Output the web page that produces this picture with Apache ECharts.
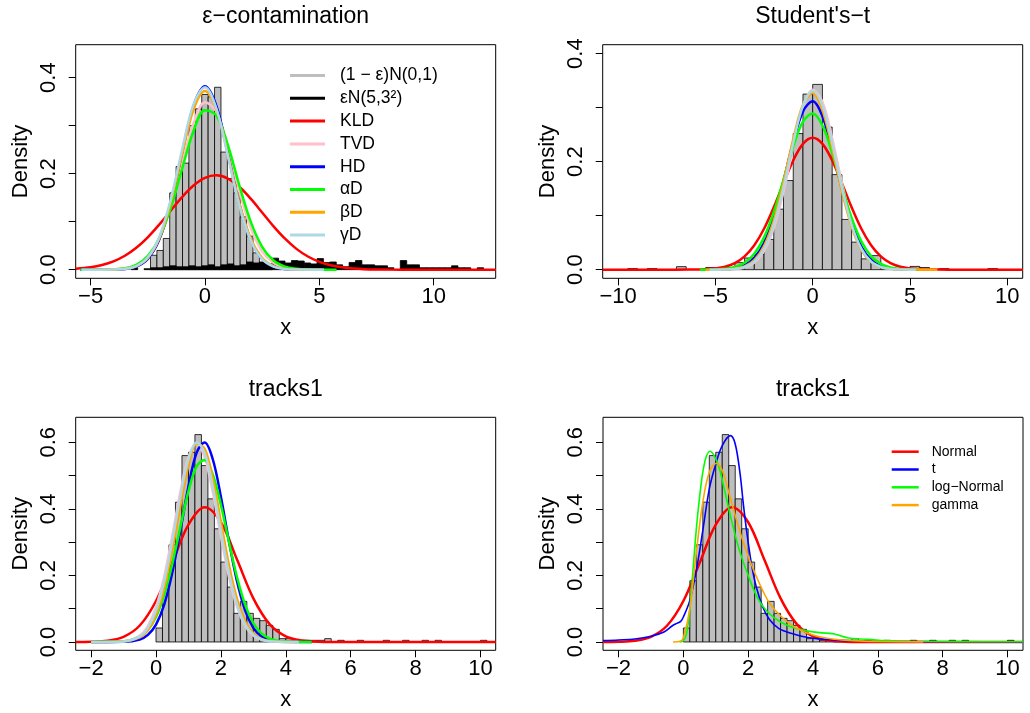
<!DOCTYPE html>
<html>
<head>
<meta charset="utf-8">
<script src="https://cdn.jsdelivr.net/npm/echarts@6/dist/echarts.min.js"></script>
<style>
html, body { margin: 0; padding: 0; background: #fff; }
#chart { width: 1030px; height: 713px; }
</style>
</head>
<body>
<div id="chart"></div>
<script>
var FONT = '"Liberation Sans", Arial, Helvetica, sans-serif';

// ---- panel 1: e-contamination ----
var p1BinStart = -3.22, p1BinWidth = 0.28;
var p1Grey = [0, 0, 0, 0.03, 0.04, 0.065, 0.16, 0.215, 0.222, 0.30, 0.335, 0.365, 0.36, 0.38,
  0.245, 0.19, 0.16, 0.11, 0.07, 0.035, 0.015, 0.005];
var p1Black = [0.004, 0, 0.002, 0.004, 0.004, 0.006, 0.008, 0.006, 0.006, 0.008, 0.006, 0.008, 0.01,
  0.006, 0.01, 0.012, 0.008, 0.01, 0.016, 0.014, 0.016, 0.012, 0.024, 0.018, 0.014, 0.019, 0.018,
  0.014, 0.012, 0.023, 0.015, 0.016, 0.01, 0.006, 0.015, 0.019, 0.01, 0.01, 0.008, 0.008, 0.004,
  0, 0.019, 0.01, 0.01, 0.004, 0.004, 0.004, 0.004, 0.004, 0.008, 0.004, 0.004, 0, 0.004];
var p1KLD = [[-5.65,0.0021],[-5,0.0052],[-4.5,0.0098],[-4,0.0174],[-3.5,0.029],[-3,0.0456],[-2.5,0.0674],
  [-2,0.0937],[-1.5,0.1227],[-1,0.1512],[-0.5,0.1753],[0,0.1913],[0.5,0.1965],[1,0.1899],[1.5,0.1727],
  [2,0.1479],[2.5,0.1192],[3,0.0903],[3.5,0.0645],[4,0.0433],[4.5,0.0274],[5,0.0163],[5.5,0.0091],
  [6,0.0048],[6.5,0.0023],[7,0.0011],[8,0.0002],[9,0],[12.71,0]];
var p1TVD = [[-5.3,0],[-4,0.0005],[-3.5,0.0024],[-3,0.0087],[-2.5,0.026],[-2,0.0642],[-1.5,0.1307],
  [-1,0.2198],[-0.5,0.3048],[0,0.3487],[0.5,0.329],[1,0.2563],[1.5,0.1647],[2,0.0873],[2.5,0.0382],
  [3,0.0138],[3.5,0.0041],[4,0.001],[5.2,0]];
var p1HD = [[-5.45,0],[-4,0.0003],[-3.5,0.0015],[-3,0.0064],[-2.5,0.0225],[-2,0.0622],[-1.5,0.1377],
  [-1,0.2427],[-0.5,0.341],[0,0.382],[0.5,0.341],[1,0.2427],[1.5,0.1377],[2,0.0622],[2.5,0.0225],
  [3,0.0064],[3.5,0.0015],[4,0.0003],[5.3,0]];
var p1AlphaD = [[-5.45,0],[-4.5,0.0002],[-4,0.0008],[-3.5,0.003],[-3,0.0101],[-2.5,0.0281],[-2,0.0655],
  [-1.5,0.128],[-1,0.21],[-0.5,0.289],[0,0.332],[0.5,0.321],[1,0.26],[1.5,0.176],[2,0.1],[2.5,0.0477],
  [3,0.019],[3.5,0.0064],[4,0.0018],[4.5,0.0004],[5.75,0]];
var p1BetaD = [[-4.95,0],[-4,0.0004],[-3.5,0.0018],[-3,0.0073],[-2.5,0.0243],[-2,0.0648],[-1.5,0.1393],
  [-1,0.2404],[-0.5,0.3335],[0,0.372],[0.5,0.3335],[1,0.2404],[1.5,0.1393],[2,0.0648],[2.5,0.0243],
  [3,0.0073],[3.5,0.0018],[4,0.0004],[5.1,0]];
var p1GammaD = [[-5.4,0],[-4,0.0004],[-3.5,0.0019],[-3,0.0075],[-2.5,0.0252],[-2,0.0676],[-1.5,0.1452],
  [-1,0.25],[-0.5,0.3444],[0,0.38],[0.5,0.3354],[1,0.237],[1.5,0.134],[2,0.0607],[2.5,0.022],
  [3,0.0064],[3.5,0.0016],[4,0.0003],[5.2,0]];

// ---- panel 2: Student's-t ----
var p2BinStart = -10, p2BinWidth = 0.5;
var p2Grey = [0, 0.002, 0, 0.002, 0, 0, 0.0056, 0, 0, 0.004, 0.002, 0.004, 0.013, 0.0216, 0.028, 0.056,
  0.112, 0.165, 0.252, 0.325, 0.343, 0.264, 0.176, 0.093, 0.051, 0.02, 0.026, 0.004, 0, 0, 0.006,
  0.004, 0, 0.002, 0, 0, 0, 0, 0.002, 0];
var p2KLD = [[-10.79,0],[-7,0],[-6,0.0003],[-5.5,0.0009],[-5,0.0023],[-4.5,0.0055],[-4,0.0122],[-3.5,0.0247],
  [-3,0.0453],[-2.5,0.0758],[-2,0.1155],[-1.5,0.1602],[-1,0.2024],[-0.5,0.2329],[0,0.244],[0.5,0.2329],
  [1,0.2024],[1.5,0.1602],[2,0.1155],[2.5,0.0758],[3,0.0453],[3.5,0.0247],[4,0.0122],[4.5,0.0055],
  [5,0.0023],[5.5,0.0009],[6,0.0003],[7,0],[10.79,0]];
var p2TVD = [[-5.3,0],[-4.5,0.0003],[-4,0.0011],[-3.5,0.0042],[-3,0.0132],[-2.5,0.0348],[-2,0.0774],
  [-1.5,0.1446],[-1,0.2271],[-0.5,0.2997],[0,0.333],[0.5,0.3104],[1,0.2434],[1.5,0.1605],[2,0.0889],
  [2.5,0.0414],[3,0.0162],[3.5,0.0053],[4,0.0015],[4.5,0.0003],[5.4,0]];
var p2HD = [[-5.5,0],[-4.5,0.0007],[-4,0.0027],[-3.5,0.0082],[-3,0.0219],[-2.5,0.0499],[-2,0.0977],
  [-1.5,0.1641],[-1,0.2367],[-0.5,0.293],[0,0.3116],[0.5,0.2842],[1,0.2227],[1.5,0.1497],[2,0.0865],
  [2.5,0.0429],[3,0.0182],[3.5,0.0067],[4,0.0021],[4.5,0.0005],[5.3,0]];
var p2AlphaD = [[-5.8,0],[-5,0.0004],[-4.5,0.0015],[-4,0.0048],[-3.5,0.0127],[-3,0.0294],[-2.5,0.0598],
  [-2,0.1065],[-1.5,0.1664],[-1,0.228],[-0.5,0.274],[0,0.289],[0.5,0.267],[1,0.2164],[1.5,0.1538],
  [2,0.0959],[2.5,0.0524],[3,0.0251],[3.5,0.0106],[4,0.0039],[4.5,0.0012],[5,0.0003],[5.5,0]];
var p2BetaD = [[-5.5,0],[-4.5,0.0003],[-4,0.0017],[-3.5,0.006],[-3,0.0176],[-2.5,0.0436],[-2,0.0912],
  [-1.5,0.1614],[-1,0.2415],[-0.5,0.3055],[0,0.327],[0.5,0.2954],[1,0.2258],[1.5,0.1459],[2,0.0797],
  [2.5,0.0368],[3,0.0144],[3.5,0.0047],[4,0.0013],[4.5,0.0003],[6.4,0]];
var p2GammaD = [[-5.3,0],[-4.5,0.0003],[-4,0.0013],[-3.5,0.0049],[-3,0.0149],[-2.5,0.0385],[-2,0.0835],
  [-1.5,0.1525],[-1,0.2345],[-0.5,0.3037],[0,0.331],[0.5,0.3037],[1,0.2345],[1.5,0.1525],[2,0.0835],
  [2.5,0.0385],[3,0.0149],[3.5,0.0049],[4,0.0013],[4.5,0.0003],[5.3,0]];

// ---- panels 3 and 4: tracks1 ----
var p3BinStart = 0, p3BinWidth = 0.2;
var p3Grey = [0.042, 0.184, 0.292, 0.42, 0.56, 0.57, 0.623, 0.53, 0.43, 0.34, 0.24, 0.165, 0.086, 0.122,
  0.086, 0.071, 0.064, 0.05, 0.038, 0.01, 0.01, 0.005, 0.005, 0.005, 0.005, 0.005, 0.01, 0, 0.005, 0,
  0, 0.005, 0, 0, 0, 0.005, 0, 0, 0.005, 0, 0, 0.005, 0, 0.005, 0, 0, 0, 0, 0, 0, 0.005];
var p3KLD = [[-2.475,0.0001],[-2,0.0007],[-1.5,0.0037],[-1,0.0154],[-0.5,0.0494],[0,0.1231],[0.5,0.2369],
  [1,0.3524],[1.5,0.405],[2,0.3597],[2.5,0.2469],[3,0.131],[3.5,0.0537],[4,0.017],[4.5,0.0042],
  [5,0.0008],[5.5,0.0001],[6,0],[10.47,0]];
var p3TVD = [[-2,0],[-1.5,0.0001],[-1,0.0021],[-0.5,0.0196],[-0.25,0.0486],[0,0.1044],[0.25,0.1953],
  [0.5,0.318],[0.75,0.4504],[1,0.555],[1.25,0.595],[1.5,0.555],[1.75,0.4504],[2,0.318],[2.25,0.1953],
  [2.5,0.1044],[2.75,0.0486],[3,0.0196],[3.25,0.0069],[3.5,0.0021],[4,0.0001],[4.5,0]];
var p3HD = [[-2,0],[-1,0.0006],[-0.5,0.0075],[-0.25,0.0212],[0,0.0521],[0.25,0.1115],[0.5,0.2071],
  [0.75,0.3339],[1,0.4674],[1.25,0.568],[1.5,0.5994],[1.75,0.549],[2,0.4367],[2.25,0.3016],[2.5,0.1807],
  [2.75,0.0942],[3,0.0425],[3.25,0.0167],[3.5,0.0057],[3.75,0.0017],[4,0.0004],[4.8,0]];
var p3AlphaD = [[-2,0],[-1,0.0019],[-0.5,0.0152],[-0.25,0.0359],[0,0.0754],[0.25,0.1409],[0.5,0.2339],
  [0.75,0.3451],[1,0.4527],[1.25,0.5277],[1.5,0.5467],[1.75,0.5034],[2,0.4119],[2.25,0.2996],
  [2.5,0.1937],[2.75,0.1113],[3,0.0568],[3.25,0.0258],[3.5,0.0104],[3.75,0.0037],[4,0.0012],
  [4.5,0.0001],[4.8,0]];
var p3BetaD = [[-2,0],[-1,0.0013],[-0.5,0.0136],[-0.25,0.0357],[0,0.0812],[0.25,0.1604],[0.5,0.2753],
  [0.75,0.4102],[1,0.5305],[1.25,0.5957],[1.5,0.5807],[1.75,0.4914],[2,0.3614],[2.25,0.2302],
  [2.5,0.1279],[2.75,0.0614],[3,0.0256],[3.25,0.0093],[3.5,0.0029],[4,0.0002],[4.35,0]];
var p3GammaD = [[-2,0],[-1.5,0.0001],[-1,0.0017],[-0.5,0.0167],[-0.25,0.0425],[0,0.0942],[0.25,0.1807],
  [0.5,0.3016],[0.75,0.4367],[1,0.549],[1.25,0.5994],[1.5,0.568],[1.75,0.4674],[2,0.3339],[2.25,0.2071],
  [2.5,0.1115],[2.75,0.0521],[3,0.0212],[3.25,0.0075],[3.5,0.0023],[4,0.0001],[4.4,0]];

var p4Normal = p3KLD;
var p4T = [[-2.48,0.004],[-2,0.006],[-1.5,0.009],[-1,0.017],[-0.6,0.03],[-0.35,0.048],[-0.2,0.056],
  [-0.08,0.062],[0,0.075],[0.2,0.125],[0.4,0.215],[0.6,0.335],[0.8,0.46],[1,0.535],[1.2,0.59],
  [1.45,0.62],[1.6,0.595],[1.75,0.505],[1.85,0.415],[1.95,0.335],[2.1,0.235],[2.25,0.165],[2.45,0.105],
  [2.65,0.068],[2.95,0.04],[3.4,0.024],[3.8,0.014],[4.3,0.008],[5,0.004],[6,0.002],[8,0.0008],[10.48,0.0003]];
var p4LogNormal = [[-0.12,0],[0,0.004],[0.1,0.025],[0.2,0.1],[0.3,0.22],[0.4,0.34],[0.5,0.435],[0.6,0.51],
  [0.7,0.555],[0.82,0.573],[0.95,0.56],[1.1,0.525],[1.25,0.465],[1.45,0.38],[1.7,0.285],[2,0.2],
  [2.3,0.13],[2.6,0.09],[3,0.06],[3.4,0.043],[3.8,0.034],[4.2,0.028],[4.6,0.025],[4.8,0.02],[5.1,0.012],
  [5.5,0.009],[5.8,0.007],[6.2,0.004],[7,0.002],[8.5,0.001],[10.48,0.0005]];
var p4Gamma = [[-0.32,0],[-0.1,0.002],[0,0.012],[0.2,0.1],[0.4,0.27],[0.6,0.42],[0.8,0.51],[1.02,0.537],
  [1.2,0.515],[1.4,0.45],[1.6,0.38],[1.8,0.315],[2.05,0.245],[2.35,0.175],[2.65,0.118],[3,0.078],
  [3.4,0.047],[3.8,0.028],[4.2,0.016],[4.6,0.009],[5.2,0.004],[6,0.0015],[7.4,0.0003]];

// ticks
var p1XTicks = [-5, 0, 5, 10];
var p2XTicks = [-10, -5, 0, 5, 10];
var p3XTicks = [-2, 0, 2, 4, 6, 8, 10];
var yTicksTop = [0, 0.1, 0.2, 0.3, 0.4];
var yLabelsTop = [0, 0.2, 0.4];
var yTicksBottom = [0, 0.1, 0.2, 0.3, 0.4, 0.5, 0.6];
var yLabelsBottom = [0, 0.2, 0.4, 0.6];

var fitNames = ['KLD', 'TVD', 'HD', '\u03b1D', '\u03b2D', '\u03b3D'];
var fitColors = ['#FF0000', '#FFC0CB', '#0000FF', '#00FF00', '#FFA500', '#ADD8E6'];

function histData(start, width, heights) {
  var out = [];
  for (var i = 0; i < heights.length; i++) {
    if (heights[i] > 0) out.push([start + i * width, start + (i + 1) * width, heights[i]]);
  }
  return out;
}

function histSeries(name, idx, data, fill) {
  return {
    name: name, type: 'custom', xAxisIndex: idx, yAxisIndex: idx, z: 1, clip: true,
    itemStyle: { color: fill },
    encode: { x: [0, 1], y: 2 },
    renderItem: function (params, api) {
      var a = api.coord([api.value(0), api.value(2)]);
      var b = api.coord([api.value(1), 0]);
      return {
        type: 'rect',
        shape: { x: a[0], y: a[1], width: b[0] - a[0], height: b[1] - a[1] },
        style: { fill: fill, stroke: '#000', lineWidth: 0.8 }
      };
    },
    data: data
  };
}

function lineSeries(name, idx, data, color, width) {
  return {
    name: name, type: 'line', xAxisIndex: idx, yAxisIndex: idx, data: data, color: color,
    showSymbol: false, symbol: 'none', smooth: 0.35, z: 3, clip: true,
    lineStyle: { width: width, color: color }
  };
}

function fmtX(v) { return v < 0 ? '\u2212' + (-v) : String(v); }

function xAxis(idx, min, max, ticks) {
  return {
    type: 'value', gridIndex: idx, min: min, max: max, position: 'bottom',
    name: 'x', nameLocation: 'middle', nameGap: 39,
    nameTextStyle: { fontSize: 22, color: '#000', fontFamily: FONT },
    axisLine: { show: false, onZero: false }, splitLine: { show: false },
    axisTick: { show: true, length: 7, customValues: ticks, lineStyle: { color: '#000' } },
    axisLabel: { customValues: ticks, margin: 8, fontSize: 22, color: '#000', fontFamily: FONT, formatter: fmtX }
  };
}

function yAxis(idx, min, max, ticks, labels) {
  return {
    type: 'value', gridIndex: idx, min: min, max: max, position: 'left',
    name: 'Density', nameLocation: 'middle', nameGap: 44, nameRotate: 90,
    nameTextStyle: { fontSize: 22, color: '#000', fontFamily: FONT },
    axisLine: { show: false, onZero: false }, splitLine: { show: false },
    axisTick: { show: true, length: 7, customValues: ticks, lineStyle: { color: '#000' } },
    axisLabel: {
      customValues: labels, rotate: 90, margin: 16, fontSize: 22, color: '#000', fontFamily: FONT,
      formatter: function (v) { return v.toFixed(1); }
    }
  };
}

function panelTitle(text, x, y) {
  return {
    text: text, left: x, top: y, textAlign: 'center', padding: 0,
    textStyle: { fontSize: 23, fontWeight: 'normal', color: '#000', fontFamily: FONT }
  };
}

var gridStyle = { show: true, borderColor: '#000', borderWidth: 1, backgroundColor: 'transparent' };

var series = [];
series.push(histSeries('(1 \u2212 \u03b5)N(0,1)', 0, histData(p1BinStart, p1BinWidth, p1Grey), '#BEBEBE'));
series.push(histSeries('\u03b5N(5,3\u00b2)', 0, histData(p1BinStart, p1BinWidth, p1Black), '#000000'));
[p1KLD, p1TVD, p1HD, p1AlphaD, p1BetaD, p1GammaD].forEach(function (d, i) {
  series.push(lineSeries(fitNames[i], 0, d, fitColors[i], 2.5));
});
series.push(histSeries('t-sample', 1, histData(p2BinStart, p2BinWidth, p2Grey), '#BEBEBE'));
[p2KLD, p2TVD, p2HD, p2AlphaD, p2BetaD, p2GammaD].forEach(function (d, i) {
  series.push(lineSeries(fitNames[i], 1, d, fitColors[i], 2.5));
});
series.push(histSeries('tracks1', 2, histData(p3BinStart, p3BinWidth, p3Grey), '#BEBEBE'));
[p3KLD, p3TVD, p3HD, p3AlphaD, p3BetaD, p3GammaD].forEach(function (d, i) {
  series.push(lineSeries(fitNames[i], 2, d, fitColors[i], 2.5));
});
series.push(histSeries('tracks1 ', 3, histData(p3BinStart, p3BinWidth, p3Grey), '#BEBEBE'));
series.push(lineSeries('Normal', 3, p4Normal, '#FF0000', 2.5));
series.push(lineSeries('t', 3, p4T, '#0000FF', 1.6));
series.push(lineSeries('log\u2212Normal', 3, p4LogNormal, '#00FF00', 1.6));
series.push(lineSeries('gamma', 3, p4Gamma, '#FFA500', 1.6));

var option = {
  animation: false,
  backgroundColor: '#fff',
  title: [
    panelTitle('\u03b5\u2212contamination', 285.7, 5),
    panelTitle("Student's\u2212t", 812.7, 5),
    panelTitle('tracks1', 285.7, 378),
    panelTitle('tracks1', 813, 378)
  ],
  grid: [
    Object.assign({ left: 75.7, top: 44.7, width: 420, height: 233.6 }, gridStyle),
    Object.assign({ left: 602.7, top: 44.7, width: 420, height: 233.6 }, gridStyle),
    Object.assign({ left: 75.7, top: 417.3, width: 420, height: 233 }, gridStyle),
    Object.assign({ left: 603, top: 417.3, width: 420, height: 233 }, gridStyle)
  ],
  xAxis: [
    xAxis(0, -5.65, 12.71, p1XTicks),
    xAxis(1, -10.79, 10.79, p2XTicks),
    xAxis(2, -2.475, 10.47, p3XTicks),
    xAxis(3, -2.48, 10.48, p3XTicks)
  ],
  yAxis: [
    yAxis(0, -0.018, 0.4687, yTicksTop, yLabelsTop),
    yAxis(1, -0.016, 0.4165, yTicksTop, yLabelsTop),
    yAxis(2, -0.025, 0.675, yTicksBottom, yLabelsBottom),
    yAxis(3, -0.025, 0.675, yTicksBottom, yLabelsBottom)
  ],
  legend: [
    {
      orient: 'vertical', left: 290, top: 66.5, icon: 'rect', itemWidth: 35, itemHeight: 3, itemGap: 4.8,
      selectedMode: false, padding: 0,
      textStyle: { fontSize: 17.5, lineHeight: 17.5, color: '#000', fontFamily: FONT, padding: [0, 0, 0, 10] },
      data: ['(1 \u2212 \u03b5)N(0,1)', '\u03b5N(5,3\u00b2)'].concat(fitNames)
    },
    {
      orient: 'vertical', left: 891.7, top: 444.7, icon: 'rect', itemWidth: 27, itemHeight: 2.5, itemGap: 3.8,
      selectedMode: false, padding: 0,
      textStyle: { fontSize: 14, lineHeight: 14, color: '#000', fontFamily: FONT, padding: [0, 0, 0, 8] },
      data: ['Normal', 't', 'log\u2212Normal', 'gamma']
    }
  ],
  series: series
};

var myChart = echarts.init(document.getElementById('chart'));
myChart.setOption(option);
</script>
</body>
</html>
